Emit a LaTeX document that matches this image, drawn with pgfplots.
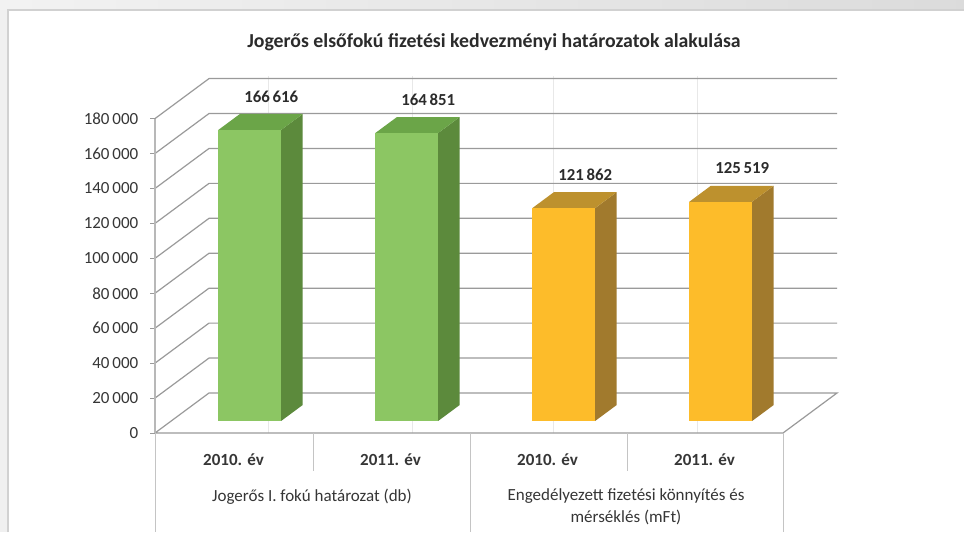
\documentclass[border=0pt]{standalone}
\usepackage{fontspec}
\setmainfont{Carlito}
\usepackage{pgfplots}
\pgfplotsset{compat=1.18}
\pgfdeclarelayer{background}
\pgfsetlayers{background,main}
\definecolor{gF}{HTML}{8CC663}
\definecolor{gS}{HTML}{5C8A3C}
\definecolor{gT}{HTML}{6BA548}
\definecolor{oF}{HTML}{FDBC2A}
\definecolor{oS}{HTML}{A17A2D}
\definecolor{oT}{HTML}{BD912E}
\definecolor{gridc}{HTML}{9A9A9A}
\definecolor{tbl}{HTML}{C4C4C4}
\definecolor{txt}{HTML}{363636}
\begin{document}
\begin{tikzpicture}[x=0.75pt,y=0.75pt]
\begin{axis}[
  at={(0,0)}, anchor=origin,
  x={(117.75pt,0pt)}, y={(40.5pt,30pt)}, z={(0pt,0.00131667pt)},
  xmin=0, xmax=4, ymin=0, ymax=1, zmin=0, zmax=180000,
  hide axis, clip=false,
]
\coordinate (O) at (axis cs:0,0,0);
% side wall diagonals and back wall grid lines
\pgfplotsinvokeforeach{20000,40000,60000,80000,100000,120000,140000,160000,180000}{
  \addplot3[color=gridc, line width=0.9pt] coordinates {(0,0,#1) (0,1,#1) (4,1,#1)};
  \draw[color=gridc, line width=0.6pt] (axis cs:0,0,#1) -- ++(-4pt,0pt);
}
\draw[color=gridc, line width=0.6pt] (axis cs:0,0,0) -- ++(-4pt,0pt);
% tick labels
\begin{scope}[every node/.style={anchor=east, text=txt, font=\fontsize{12.75}{15}\selectfont, xshift=-9pt}]
\node at (axis cs:0,0,0) {0};
\node at (axis cs:0,0,20000) {20\,000};
\node at (axis cs:0,0,40000) {40\,000};
\node at (axis cs:0,0,60000) {60\,000};
\node at (axis cs:0,0,80000) {80\,000};
\node at (axis cs:0,0,100000) {100\,000};
\node at (axis cs:0,0,120000) {120\,000};
\node at (axis cs:0,0,140000) {140\,000};
\node at (axis cs:0,0,160000) {160\,000};
\node at (axis cs:0,0,180000) {180\,000};
\end{scope}
% floor
\addplot3[color=gridc, line width=0.9pt] coordinates {(0,0,0) (0,1,0) (4,1,0) (4,0,0) (0,0,0)};
% front vertical axis line
\addplot3[color=black!28, line width=0.9pt] coordinates {(0,0,0) (0,0,180000)};
% bar 1: 166616
\addplot3[fill=gS, draw=none] coordinates {(0.7,0.3,0) (0.7,0.7,0) (0.7,0.7,166616) (0.7,0.3,166616)} -- cycle;
\addplot3[fill=gT, draw=none] coordinates {(0.3,0.3,166616) (0.7,0.3,166616) (0.7,0.7,166616) (0.3,0.7,166616)} -- cycle;
\addplot3[fill=gF, draw=none] coordinates {(0.3,0.3,0) (0.7,0.3,0) (0.7,0.3,166616) (0.3,0.3,166616)} -- cycle;
% bar 2: 164851
\addplot3[fill=gS, draw=none] coordinates {(1.7,0.3,0) (1.7,0.7,0) (1.7,0.7,164851) (1.7,0.3,164851)} -- cycle;
\addplot3[fill=gT, draw=none] coordinates {(1.3,0.3,164851) (1.7,0.3,164851) (1.7,0.7,164851) (1.3,0.7,164851)} -- cycle;
\addplot3[fill=gF, draw=none] coordinates {(1.3,0.3,0) (1.7,0.3,0) (1.7,0.3,164851) (1.3,0.3,164851)} -- cycle;
% bar 3: 121862
\addplot3[fill=oS, draw=none] coordinates {(2.7,0.3,0) (2.7,0.7,0) (2.7,0.7,121862) (2.7,0.3,121862)} -- cycle;
\addplot3[fill=oT, draw=none] coordinates {(2.3,0.3,121862) (2.7,0.3,121862) (2.7,0.7,121862) (2.3,0.7,121862)} -- cycle;
\addplot3[fill=oF, draw=none] coordinates {(2.3,0.3,0) (2.7,0.3,0) (2.7,0.3,121862) (2.3,0.3,121862)} -- cycle;
% bar 4: 125519
\addplot3[fill=oS, draw=none] coordinates {(3.7,0.3,0) (3.7,0.7,0) (3.7,0.7,125519) (3.7,0.3,125519)} -- cycle;
\addplot3[fill=oT, draw=none] coordinates {(3.3,0.3,125519) (3.7,0.3,125519) (3.7,0.7,125519) (3.3,0.7,125519)} -- cycle;
\addplot3[fill=oF, draw=none] coordinates {(3.3,0.3,0) (3.7,0.3,0) (3.7,0.3,125519) (3.3,0.3,125519)} -- cycle;
% value labels
\begin{scope}[font=\fontsize{12.6}{15}\selectfont\bfseries, text=txt!80!black]
\node[yshift=13pt] at (axis cs:0.5,0.7,166616) {166\,616};
\node[yshift=13pt] at (axis cs:1.5,0.7,164851) {164\,851};
\node[yshift=13pt] at (axis cs:2.5,0.7,121862) {121\,862};
\node[yshift=13pt] at (axis cs:3.5,0.7,125519) {125\,519};
\end{scope}
\end{axis}
\begin{scope}[shift={(O)}, xshift=-116.25pt, yshift=-74.25pt]
\begin{pgfonlayer}{background}
% background and frame
\fill[black!6] (0,0) rectangle (964,532);
\shade[left color=black!5, right color=black!14] (0,522) rectangle (964,532);
\fill[white] (8,0) rectangle (964,522);
\draw[black!18, line width=1.5pt] (8,0) -- (8,522) -- (964,522);
% faint vertical lines
\foreach \xx in {268,412,553,697} \draw[black!9, line width=0.6pt] (\xx,99) -- (\xx,456);
\end{pgfonlayer}
% title
\node[font=\fontsize{14.85}{17}\selectfont\bfseries, text=txt!80!black] at (494,490) {Jogerős elsőfokú fizetési kedvezményi határozatok alakulása};
% category table
\draw[tbl, line width=0.75pt] (155,99) -- (155,0);
\draw[tbl, line width=0.75pt] (313,99) -- (313,61);
\draw[tbl, line width=0.75pt] (470,99) -- (470,0);
\draw[tbl, line width=0.75pt] (627,99) -- (627,61);
\draw[tbl, line width=0.75pt] (783,99) -- (783,0);
\begin{scope}[font=\fontsize{12.75}{16.5}\selectfont, text=txt]
\node[font=\fontsize{12.75}{16.5}\selectfont\bfseries] at (233.5,72) {2010. év};
\node[font=\fontsize{12.75}{16.5}\selectfont\bfseries] at (390.5,72) {2011. év};
\node[font=\fontsize{12.75}{16.5}\selectfont\bfseries] at (547.5,72) {2010. év};
\node[font=\fontsize{12.75}{16.5}\selectfont\bfseries] at (704.5,72) {2011. év};
\node at (312,35) {Jogerős I. fokú határozat (db)};
\node[align=center] at (626,25) {Engedélyezett fizetési könnyítés és\\mérséklés (mFt)};
\end{scope}
\pgfresetboundingbox
\useasboundingbox (0,0) rectangle (964,532);
\end{scope}
\end{tikzpicture}
\end{document}
